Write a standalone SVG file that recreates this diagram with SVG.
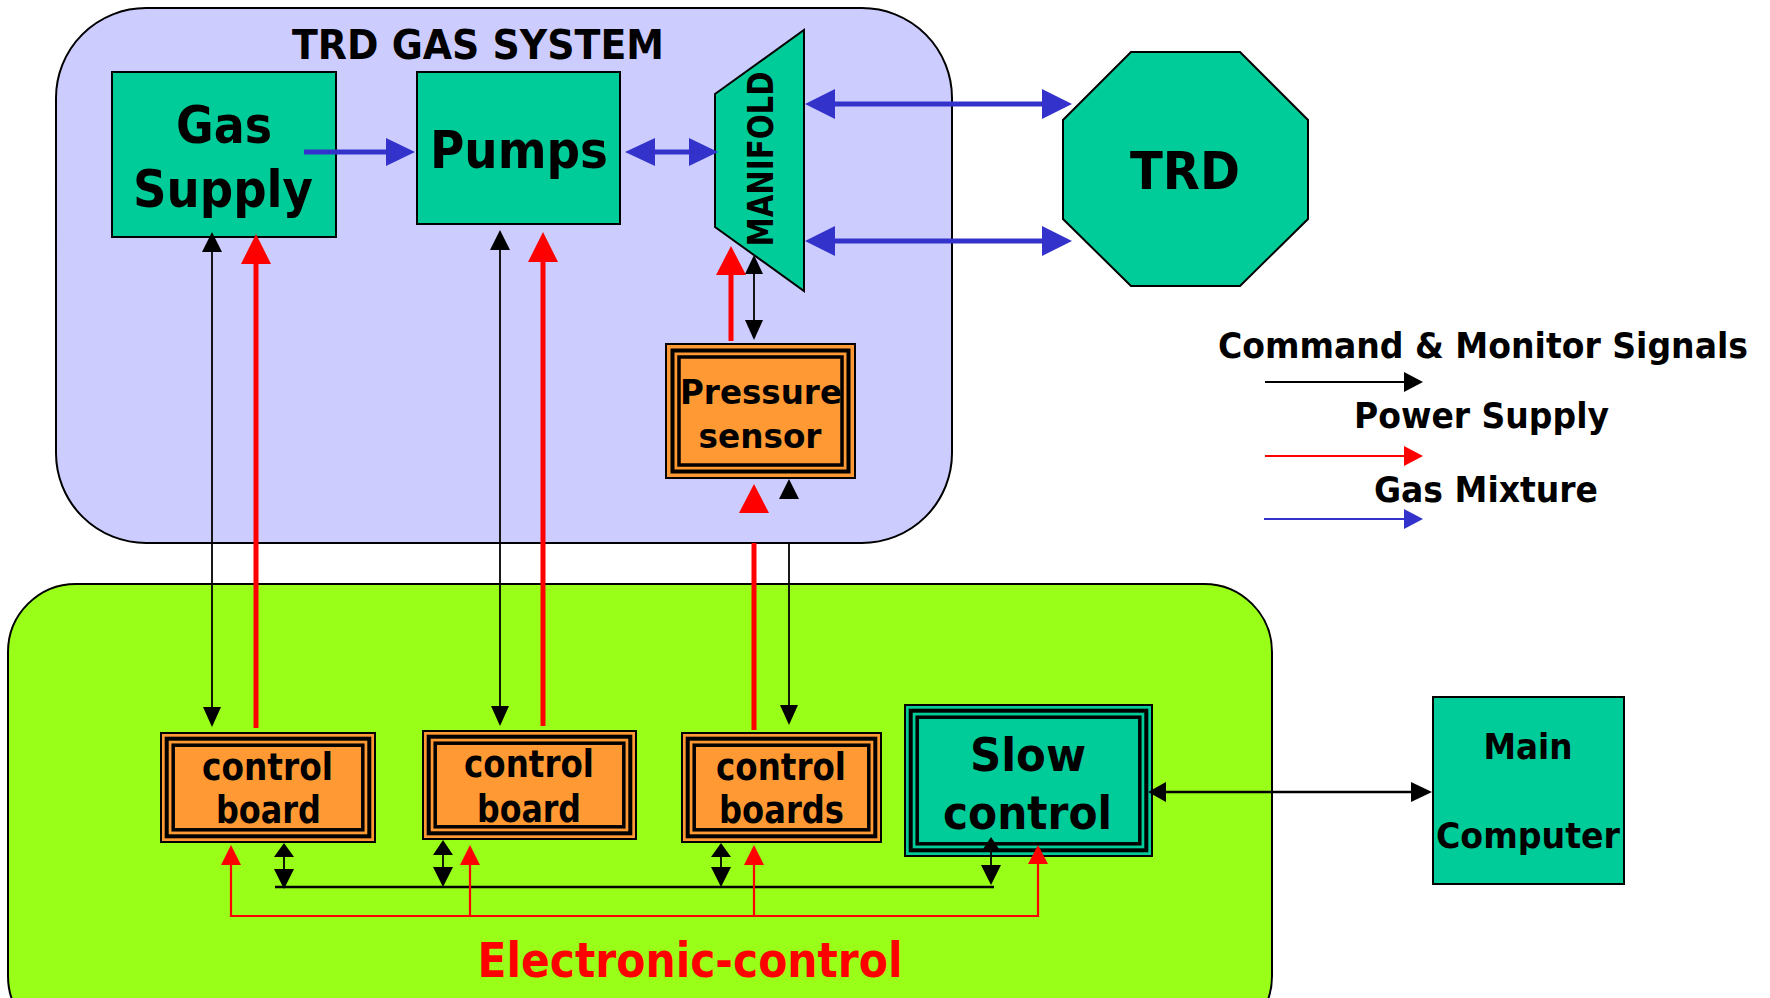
<svg xmlns="http://www.w3.org/2000/svg" width="1770" height="998" viewBox="0 0 1770 998">
<style>
text{font-family:'DejaVu Sans Condensed','DejaVu Sans',sans-serif;font-weight:bold;fill:#000;text-anchor:middle}
.teal{fill:#00CC99;stroke:#000;stroke-width:2}
.b1{stroke:#000;stroke-width:2}
.b2{fill:none;stroke:#000;stroke-width:4}
.b3{fill:none;stroke:#000;stroke-width:3.5}
.or{fill:#FF9933}
.blue{stroke:#3333CC;stroke-width:5;fill:none}
.red{stroke:#FF0000;stroke-width:5;fill:none}
.redt{stroke:#FF0000;stroke-width:2.2;fill:none}
.blk{stroke:#000;stroke-width:1.8;fill:none}
.blkt{stroke:#000;stroke-width:2.5;fill:none}
.hb{fill:#3333CC}
.hr{fill:#FF0000}
.hk{fill:#000}
</style>
<rect x="0" y="0" width="1770" height="998" fill="#fff"/>
<g id="gas-system-area">
<rect x="56" y="8" width="896" height="535" rx="90" ry="90" fill="#CCCCFF" stroke="#000" stroke-width="2"/>
<text x="478" y="59" font-size="40" textLength="372" lengthAdjust="spacingAndGlyphs">TRD GAS SYSTEM</text>
</g>
<g id="electronic-area">
<rect x="8" y="584" width="1264" height="460" rx="68" ry="68" fill="#99FF19" stroke="#000" stroke-width="2"/>
<text x="690" y="977" font-size="48" textLength="425" lengthAdjust="spacingAndGlyphs" style="fill:#FF0000">Electronic-control</text>
</g>
<g id="gas-supply">
<rect class="teal" x="112" y="72" width="224" height="165"/>
<text x="224" y="143" font-size="52" textLength="96" lengthAdjust="spacingAndGlyphs">Gas</text>
<text x="223" y="207" font-size="52" textLength="180" lengthAdjust="spacingAndGlyphs">Supply</text>
</g>
<g id="pumps">
<rect class="teal" x="417" y="72" width="203" height="152"/>
<text x="519" y="168" font-size="52" textLength="178" lengthAdjust="spacingAndGlyphs">Pumps</text>
</g>
<g id="manifold">
<polygon class="teal" points="715,94 804,30 804,291 715,227"/>
<text transform="translate(773,159) rotate(-90)" x="0" y="0" font-size="36" textLength="175" lengthAdjust="spacingAndGlyphs" style="font-family:'DejaVu Sans',sans-serif">MANIFOLD</text>
</g>
<g id="trd">
<polygon class="teal" points="1131,52 1240,52 1308,120 1308,219 1240,286 1131,286 1063,219 1063,120"/>
<text x="1185" y="189" font-size="51" textLength="110" lengthAdjust="spacingAndGlyphs">TRD</text>
</g>
<g id="pressure-sensor">
<rect class="or b1" x="666" y="344" width="189" height="134"/>
<rect class="b2" x="672.5" y="350.5" width="176" height="121"/>
<rect class="b3" x="679" y="357" width="163" height="108"/>
<text x="761" y="404" font-size="34" textLength="162" lengthAdjust="spacingAndGlyphs">Pressure</text>
<text x="760" y="448" font-size="34" textLength="123" lengthAdjust="spacingAndGlyphs">sensor</text>
</g>
<g id="control-board-1">
<rect class="or b1" x="161" y="733" width="214" height="109"/>
<rect class="b2" x="166.7" y="738.7" width="202.6" height="97.6"/>
<rect class="b3" x="173.2" y="745.2" width="189.6" height="84.6"/>
<text x="267.5" y="780" font-size="37" textLength="131" lengthAdjust="spacingAndGlyphs">control</text>
<text x="268.5" y="823" font-size="37" textLength="105" lengthAdjust="spacingAndGlyphs">board</text>
</g>
<g id="control-board-2">
<rect class="or b1" x="423" y="731" width="213" height="108"/>
<rect class="b2" x="428.7" y="736.7" width="201.6" height="96.6"/>
<rect class="b3" x="435.2" y="743.2" width="188.6" height="83.6"/>
<text x="529" y="777" font-size="37" textLength="130" lengthAdjust="spacingAndGlyphs">control</text>
<text x="529" y="822" font-size="37" textLength="104" lengthAdjust="spacingAndGlyphs">board</text>
</g>
<g id="control-boards-3">
<rect class="or b1" x="682" y="733" width="199" height="109"/>
<rect class="b2" x="687.7" y="738.7" width="187.6" height="97.6"/>
<rect class="b3" x="694.2" y="745.2" width="174.6" height="84.6"/>
<text x="781" y="780" font-size="37" textLength="130" lengthAdjust="spacingAndGlyphs">control</text>
<text x="781.5" y="823" font-size="37" textLength="125" lengthAdjust="spacingAndGlyphs">boards</text>
</g>
<g id="slow-control">
<rect class="teal" x="905" y="705" width="247" height="151"/>
<rect class="b2" x="910.7" y="710.7" width="235.6" height="139.6"/>
<rect class="b3" x="917.2" y="717.2" width="222.6" height="126.6"/>
<text x="1028" y="771" font-size="47" textLength="116" lengthAdjust="spacingAndGlyphs">Slow</text>
<text x="1027.5" y="829" font-size="47" textLength="169" lengthAdjust="spacingAndGlyphs">control</text>
</g>
<g id="main-computer">
<rect class="teal" x="1433" y="697" width="191" height="187"/>
<text x="1528" y="759" font-size="36" textLength="89" lengthAdjust="spacingAndGlyphs">Main</text>
<text x="1528" y="848" font-size="36" textLength="184" lengthAdjust="spacingAndGlyphs">Computer</text>
</g>
<g id="connectors">
<line class="blue" x1="304" y1="152" x2="388" y2="152"/>
<polygon class="hb" points="386,138 415,152 386,166"/>
<line class="blue" x1="653" y1="152" x2="691" y2="152"/>
<polygon class="hb" points="655,138 625,152 655,166"/>
<polygon class="hb" points="689,138 718,152 689,166"/>
<line class="blue" x1="833" y1="104" x2="1044" y2="104"/>
<polygon class="hb" points="835,89 805,104 835,119"/>
<polygon class="hb" points="1042,89 1072,104 1042,119"/>
<line class="blue" x1="833" y1="241" x2="1044" y2="241"/>
<polygon class="hb" points="835,226 805,241 835,256"/>
<polygon class="hb" points="1042,226 1072,241 1042,256"/>
<line class="blk" x1="212" y1="250" x2="212" y2="709"/>
<polygon class="hk" points="202,252 212,232 222,252"/>
<polygon class="hk" points="203,707 212,727 221,707"/>
<line class="red" x1="256" y1="262" x2="256" y2="728"/>
<polygon class="hr" points="241,264 256,234 271,264"/>
<line class="blk" x1="500" y1="248" x2="500" y2="708"/>
<polygon class="hk" points="490,250 500,230 510,250"/>
<polygon class="hk" points="491,706 500,726 509,706"/>
<line class="red" x1="543" y1="260" x2="543" y2="726"/>
<polygon class="hr" points="528,262 543,232 558,262"/>
<line class="red" x1="731" y1="273" x2="731" y2="341"/>
<polygon class="hr" points="716,275 731,246 746,275"/>
<line class="blk" x1="754" y1="272" x2="754" y2="322"/>
<polygon class="hk" points="745,274 754,255 763,274"/>
<polygon class="hk" points="745,320 754,340 763,320"/>
<polygon class="hr" points="739,513 754,484 769,513"/>
<polygon class="hk" points="779,499 789,479 799,499"/>
<line class="red" x1="754" y1="543" x2="754" y2="730"/>
<line class="blk" x1="789" y1="543" x2="789" y2="707"/>
<polygon class="hk" points="780,705 789,725 798,705"/>
<line class="blk" x1="275" y1="887" x2="994" y2="887" style="stroke-width:2.5"/>
<line class="blk" x1="284" y1="855" x2="284" y2="871"/>
<polygon class="hk" points="274,857 284,843 294,857"/>
<polygon class="hk" points="274,869 284,889 294,869"/>
<line class="blk" x1="443" y1="853" x2="443" y2="869"/>
<polygon class="hk" points="433,855 443,840 453,855"/>
<polygon class="hk" points="433,867 443,887 453,867"/>
<line class="blk" x1="721" y1="855" x2="721" y2="869"/>
<polygon class="hk" points="711,857 721,843 731,857"/>
<polygon class="hk" points="711,867 721,887 731,867"/>
<line class="blk" x1="991" y1="850" x2="991" y2="867"/>
<polygon class="hk" points="981,852 991,837 1001,852"/>
<polygon class="hk" points="981,865 991,885 1001,865"/>
<polyline class="redt" points="231,863 231,916 1038,916 1038,862"/>
<line class="redt" x1="470" y1="863" x2="470" y2="916"/>
<line class="redt" x1="754" y1="863" x2="754" y2="916"/>
<polygon class="hr" points="221,865 231,845 241,865"/>
<polygon class="hr" points="460,865 470,845 480,865"/>
<polygon class="hr" points="744,865 754,845 764,865"/>
<polygon class="hr" points="1028,864 1038,845 1048,864"/>
<line class="blkt" x1="1164" y1="792" x2="1413" y2="792"/>
<polygon class="hk" points="1166,782 1148,792 1166,802"/>
<polygon class="hk" points="1411,782 1432,792 1411,802"/>
</g>
<g id="legend">
<text x="1483" y="358" font-size="36" textLength="530" lengthAdjust="spacingAndGlyphs">Command &amp; Monitor Signals</text>
<line x1="1265" y1="382" x2="1406" y2="382" stroke="#000" stroke-width="2"/>
<polygon class="hk" points="1404,372 1423,382 1404,392"/>
<text x="1481.5" y="428" font-size="36" textLength="255" lengthAdjust="spacingAndGlyphs">Power Supply</text>
<line x1="1265" y1="456" x2="1406" y2="456" stroke="#FF0000" stroke-width="2"/>
<polygon class="hr" points="1404,446 1423,456 1404,466"/>
<text x="1486" y="502" font-size="36" textLength="224" lengthAdjust="spacingAndGlyphs">Gas Mixture</text>
<line x1="1264" y1="519" x2="1406" y2="519" stroke="#3333CC" stroke-width="2"/>
<polygon class="hb" points="1404,509 1423,519 1404,529"/>
</g>
</svg>
